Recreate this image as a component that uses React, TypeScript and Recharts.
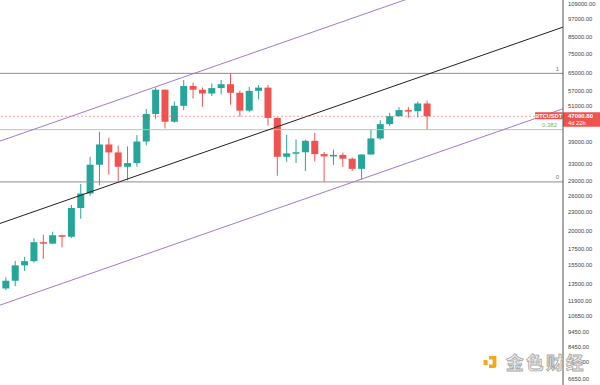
import React from "react";
import { Bar, ComposedChart, ReferenceLine, XAxis, YAxis } from "recharts";

// weekly BTCUSDT candles, oldest first (the first one is cut off at the left edge)
const OPEN = [
  11550, 13030, 13800, 15480, 15970, 18400, 18200, 19380, 19160, 23750,
  26450, 32800, 38150, 35950, 32300, 33200, 39000, 47900, 57400, 45200,
  50900, 59000, 57400, 55800, 58100, 59800, 56100, 49100, 56900, 58300,
  46500, 34800, 35700, 36000, 39200, 35500, 34900, 35300, 34300, 31800,
  35400, 39900, 44400, 47100, 49300, 48900, 51800,
];
const HIGH = [
  13350, 14150, 16000, 16480, 18950, 19450, 19900, 19450, 24300, 28400,
  34800, 41950, 40100, 37800, 37600, 40900, 49700, 58350, 57500, 52600,
  61700, 60500, 58400, 60100, 61700, 64850, 57000, 58600, 59500, 59500,
  46700, 41000, 39600, 39500, 41600, 36100, 36700, 35900, 34600, 35400,
  42800, 45700, 48300, 50400, 50500, 52500, 52900,
];
const LOW = [
  11400, 12880, 13250, 14850, 15800, 16250, 18150, 17700, 19000, 21900,
  26000, 28100, 30450, 29000, 29200, 32300, 37900, 46200, 43000, 44900,
  49300, 53800, 50500, 54800, 55400, 51300, 46900, 48500, 53400, 43900,
  30200, 33500, 33200, 31300, 33600, 28850, 32750, 32300, 31300, 29300,
  35300, 39500, 43800, 47000, 46600, 46700, 42500,
];
const CLOSE = [
  13030, 13800, 15480, 15970, 18400, 18200, 19380, 19160, 23750, 26450,
  32800, 38150, 35950, 32300, 33200, 39000, 47900, 57400, 45200, 50900,
  59000, 57400, 55800, 58100, 59800, 56100, 49100, 56900, 58300, 46500,
  34800, 35700, 36000, 39200, 35500, 34900, 35300, 34300, 31800, 35400,
  39900, 44400, 47100, 49300, 48900, 51800, 47090.8,
];
const FUTURE_SLOTS = 14;

const PRICE_TICKS = [
  6650, 7550, 8450, 9450, 10650, 11900, 13500, 15500, 17500, 20000, 23000,
  26000, 29000, 33000, 39000, 51000, 57000, 65000, 75000, 85000, 97000, 109000,
];

const SYMBOL = "BTCUSDT";
const LAST_PRICE = 47090.8;
const COUNTDOWN = "4d 22h";

// fib retracement drawn between the april high and the june low
const FIB_HIGH = 64850;
const FIB_LOW = 28850;
const FIB_LEVELS = [1, 0.382, 0];

// parallel channel, [bar index, price] at both ends
const CHANNEL_MID = [[-0.5, 20470], [60.5, 92720]];
const CHANNEL_TOP = [[-0.5, 37840], [60.5, 171400]];
const CHANNEL_BOTTOM = [[-0.5, 11130], [60.5, 50390]];

const UP = "#26a69a";
const DOWN = "#ef5350";
const PURPLE = "#a578d2";

const rows = Array.from({ length: OPEN.length + FUTURE_SLOTS }, (_, i) =>
  i < OPEN.length
    ? { i, o: OPEN[i], h: HIGH[i], l: LOW[i], c: CLOSE[i], range: [LOW[i], HIGH[i]] }
    : { i, range: null }
);

const Candle = (props: any) => {
  const { x, y, width, height, payload } = props;
  if (!payload || payload.h == null || !height) return null;
  const { o, h, l, c } = payload;
  // log scale, so place open/close inside the high-low span in log space
  const py = (v: number) => y + (height * (Math.log(h) - Math.log(v))) / (Math.log(h) - Math.log(l));
  const color = c >= o ? UP : DOWN;
  const top = py(Math.max(o, c));
  const bottom = py(Math.min(o, c));
  const cx = x + width / 2;
  return (
    <g>
      <line x1={cx} x2={cx} y1={y} y2={y + height} stroke={color} strokeWidth={1} />
      <rect x={x} y={top} width={width} height={Math.max(bottom - top, 1.5)} fill={color} />
    </g>
  );
};

const FibTag = (props: any) => {
  const { viewBox, text, color, right } = props;
  if (!viewBox) return null;
  return (
    <text x={viewBox.x + viewBox.width - right} y={viewBox.y - 2.5} textAnchor="end" fontSize={6} fill={color}>
      {text}
    </text>
  );
};

const PriceTag = (props: any) => {
  const { viewBox } = props;
  if (!viewBox) return null;
  const ax = viewBox.x + viewBox.width;
  const y = viewBox.y;
  return (
    <g>
      <rect x={ax - 28} y={y - 4} width={27.5} height={7} fill={DOWN} />
      <text x={ax - 14.3} y={y + 2} textAnchor="middle" fontSize={5.6} fontWeight="bold" fill="#fff">
        {SYMBOL}
      </text>
      <rect x={ax} y={y - 4} width={37} height={14.5} fill={DOWN} />
      <text x={ax + 5} y={y + 2.2} fontSize={6} fontWeight="bold" fill="#fff">
        {LAST_PRICE.toFixed(2)}
      </text>
      <text x={ax + 5} y={y + 8.6} fontSize={5.8} fill="#fff">
        {COUNTDOWN}
      </text>
    </g>
  );
};

const fibPrice = (lv: number) => FIB_LOW + (FIB_HIGH - FIB_LOW) * lv;

const App = () => {
  return (
    <div style={{ position: "absolute", left: 0, top: 0, width: 600, height: 385, background: "#fff", fontFamily: "'Liberation Sans', Arial, sans-serif" }}>
      <ComposedChart width={600} height={385} data={rows} margin={{ top: 0, right: 0, bottom: 0, left: -8 }}>
        <XAxis dataKey="i" hide />
        <XAxis xAxisId="n" type="number" domain={[-0.5, 60.5]} hide allowDataOverflow />
        <YAxis
          orientation="right"
          scale="log"
          domain={[6340, 112100]}
          allowDataOverflow
          ticks={PRICE_TICKS}
          interval={0}
          width={37}
          axisLine={{ stroke: "#555" }}
          tickLine={false}
          tickSize={0}
          tickMargin={5}
          tick={{ fontSize: 5.8, fill: "#444" }}
          tickFormatter={(v: number) => v.toFixed(2)}
        />
        {FIB_LEVELS.map((lv) => (
          <ReferenceLine
            key={lv}
            y={fibPrice(lv)}
            stroke={lv === 0.382 ? "#a3d3a3" : "#8c8c8c"}
            strokeWidth={1}
            label={
              <FibTag
                text={String(lv)}
                color={lv === 0.382 ? "#66bb6a" : "#777"}
                right={lv === 0.382 ? 6 : 4}
              />
            }
          />
        ))}
        <Bar dataKey="range" barSize={7} shape={<Candle />} isAnimationActive={false} />
        <ReferenceLine
          xAxisId="n"
          segment={[{ x: CHANNEL_TOP[0][0], y: CHANNEL_TOP[0][1] }, { x: CHANNEL_TOP[1][0], y: CHANNEL_TOP[1][1] }]}
          stroke={PURPLE}
          ifOverflow="hidden"
        />
        <ReferenceLine
          xAxisId="n"
          segment={[{ x: CHANNEL_MID[0][0], y: CHANNEL_MID[0][1] }, { x: CHANNEL_MID[1][0], y: CHANNEL_MID[1][1] }]}
          stroke="#222"
          ifOverflow="hidden"
        />
        <ReferenceLine
          xAxisId="n"
          segment={[{ x: CHANNEL_BOTTOM[0][0], y: CHANNEL_BOTTOM[0][1] }, { x: CHANNEL_BOTTOM[1][0], y: CHANNEL_BOTTOM[1][1] }]}
          stroke={PURPLE}
          ifOverflow="hidden"
        />
        <ReferenceLine
          y={LAST_PRICE}
          stroke={DOWN}
          strokeOpacity={0.55}
          strokeDasharray="2 2"
          label={<PriceTag />}
        />
      </ComposedChart>
      <svg width={130} height={30} style={{ position: "absolute", left: 470, top: 345 }}>
        <rect x={13.5} y={15} width={4.2} height={5.2} rx={0.8} fill="#f5a81c" />
        <path d="M19 11 h7.4 v10 q0 2 -2 2 h-5.4 v-3.6 h3.6 v-4.8 h-3.6 z" fill="#f5a81c" />
        <text x={36} y={24} fontSize={17.5} fontWeight="bold" letterSpacing={2.5} fill="#f7f7f7" stroke="#a9a9a9" strokeWidth={0.9} fontFamily="'Noto Sans CJK SC', sans-serif">
          金色财经
        </text>
      </svg>
    </div>
  );
};

export default App;
